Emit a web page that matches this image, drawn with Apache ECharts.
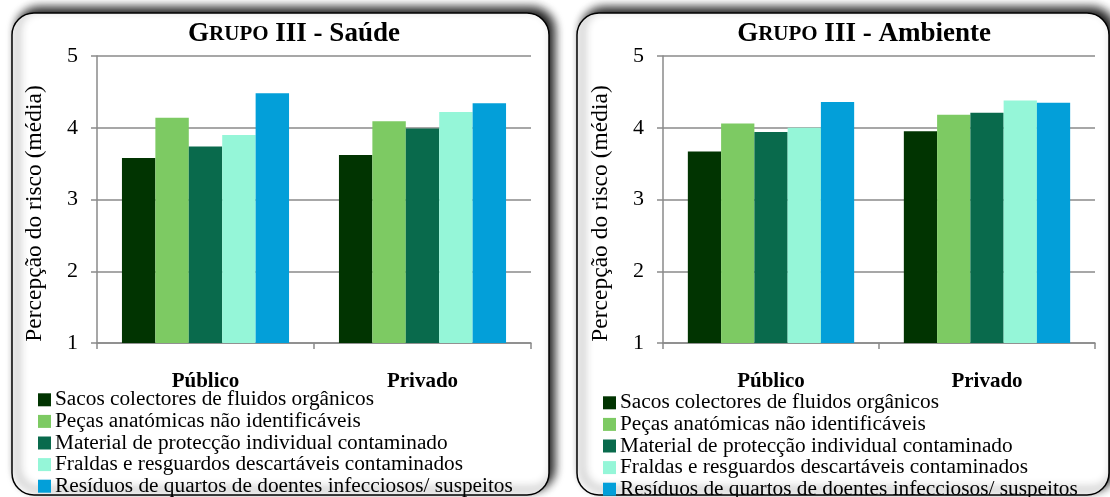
<!DOCTYPE html>
<html>
<head>
<meta charset="utf-8">
<script src="https://cdn.jsdelivr.net/npm/echarts@6/dist/echarts.min.js"></script>
<style>
html,body{margin:0;padding:0;background:#fff;}
#c{width:1110px;height:497px;}
</style>
</head>
<body>
<div id="c"></div>
<script>
const categories = ['Público', 'Privado'];
const seriesNames = [
  'Sacos colectores de fluidos orgânicos',
  'Peças anatómicas não identificáveis',
  'Material de protecção individual contaminado',
  'Fraldas e resguardos descartáveis contaminados',
  'Resíduos de quartos de doentes infecciosos/ suspeitos'
];
const colors = ['#013401', '#7dca63', '#096a4c', '#95f6d8', '#039fd9'];
// values per series: [Público, Privado]
const saudeSacos = [3.58, 3.62];
const saudePecas = [4.14, 4.09];
const saudeMaterial = [3.74, 3.99];
const saudeFraldas = [3.90, 4.22];
const saudeResiduos = [4.48, 4.34];
const ambienteSacos = [3.67, 3.95];
const ambientePecas = [4.06, 4.18];
const ambienteMaterial = [3.94, 4.21];
const ambienteFraldas = [4.00, 4.38];
const ambienteResiduos = [4.36, 4.35];
const yTicks = [1, 2, 3, 4, 5];
const titles = ['Saúde', 'Ambiente'];
const axisName = 'Percepção do risco (média)';

const saude = [saudeSacos, saudePecas, saudeMaterial, saudeFraldas, saudeResiduos];
const ambiente = [ambienteSacos, ambientePecas, ambienteMaterial, ambienteFraldas, ambienteResiduos];

const FONT = '"Liberation Serif", "Times New Roman", serif';
const chart = echarts.init(document.getElementById('c'));

function titleObj(name, cx) {
  return {
    text: '{g|G}{s|RUPO}{g| III - ' + name + '}',
    left: cx, top: 21, textAlign: 'center', padding: 0,
    textStyle: {
      rich: {
        g: {fontFamily: FONT, fontSize: 27, fontWeight: 'bold', color: '#000'},
        s: {fontFamily: FONT, fontSize: 21, fontWeight: 'bold', color: '#000'}
      }
    }
  };
}
function xAxisObj(gi) {
  return {
    type: 'category', gridIndex: gi, data: categories,
    axisLine: {lineStyle: {color: '#8a8a8a', width: 1.5}},
    axisTick: {show: true, alignWithLabel: false, length: 6, lineStyle: {color: '#8a8a8a', width: 1.5}},
    axisLabel: {fontFamily: FONT, fontSize: 21, fontWeight: 'bold', color: '#000', margin: 28}
  };
}
function yAxisObj(gi) {
  return {
    type: 'value', gridIndex: gi, min: yTicks[0], max: yTicks[yTicks.length - 1], interval: 1,
    name: axisName, nameLocation: 'middle', nameRotate: 90, nameGap: 50,
    nameTextStyle: {fontFamily: FONT, fontSize: 23.5, color: '#000', padding: [0, 28, 0, 0]},
    axisLine: {show: true, lineStyle: {color: '#8a8a8a', width: 1.5}},
    axisTick: {show: true, length: 6, lineStyle: {color: '#8a8a8a', width: 1.5}},
    axisLabel: {fontFamily: FONT, fontSize: 22, color: '#000', margin: 19},
    splitLine: {lineStyle: {color: '#8a8a8a', width: 1.5}}
  };
}
function legendObj(left, top) {
  return {
    orient: 'vertical', left: left, top: top, height: 150, width: 520, padding: 0, itemGap: 0,
    itemWidth: 13, itemHeight: 13, icon: 'rect',
    data: seriesNames,
    textStyle: {fontFamily: FONT, fontSize: 21.3, color: '#000', lineHeight: 21.6, padding: [0, 0, 0, -1]}
  };
}
const series = [];
[saude, ambiente].forEach((grp, gi) => {
  grp.forEach((vals, si) => {
    series.push({
      type: 'bar', name: seriesNames[si], xAxisIndex: gi, yAxisIndex: gi,
      data: vals, barGap: '0%', barCategoryGap: '23%',
      itemStyle: {color: colors[si]}, emphasis: {disabled: true}
    });
  });
});

function panel(x, w) {
  return {
    type: 'rect', z: -10, silent: true,
    shape: {x: x, y: 13, width: w, height: 482, r: 22},
    style: {fill: '#fff', stroke: '#000', lineWidth: 1.5,
      shadowBlur: 10, shadowColor: 'rgba(0,0,0,0.9)', shadowOffsetX: 5, shadowOffsetY: -5}
  };
}

chart.setOption({
  animation: false,
  color: colors,
  graphic: {elements: [panel(12, 537), panel(577, 532)]},
  title: [titleObj(titles[0], 294), titleObj(titles[1], 864)],
  grid: [
    {left: 97, right: 579, top: 56, bottom: 154},
    {left: 663, right: 15, top: 56, bottom: 154}
  ],
  xAxis: [xAxisObj(0), xAxisObj(1)],
  yAxis: [yAxisObj(0), yAxisObj(1)],
  legend: [legendObj(38, 389), legendObj(603, 392)],
  series: series
});
</script>
</body>
</html>
